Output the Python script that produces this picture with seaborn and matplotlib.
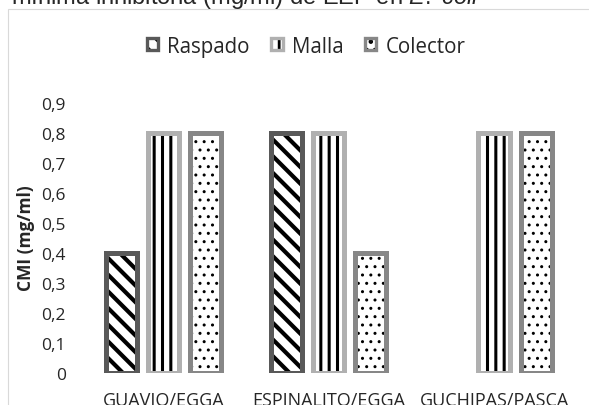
import numpy as np
import pandas as pd
import matplotlib
matplotlib.use("Agg")
import matplotlib.pyplot as plt
from matplotlib.patches import Patch, Rectangle
from matplotlib.legend_handler import HandlerTuple
from matplotlib.ticker import FuncFormatter
import seaborn as sns

# CMI (mg/ml) por sitio y método de recolección del propóleo
sites = ["GUAVIO/EGGA", "ESPINALITO/EGGA", "GUCHIPAS/PASCA"]
methods = ["Raspado", "Malla", "Colector"]
raspado = [0.4, 0.8, np.nan]      # sin dato para GUCHIPAS/PASCA
malla = [0.8, 0.8, 0.8]
colector = [0.8, 0.4, 0.8]
yticks = [0.0, 0.1, 0.2, 0.3, 0.4, 0.5, 0.6, 0.7, 0.8, 0.9]

edge_colors = ["#595959", "#B0B0B0", "#878787"]
hatches = ["\\\\", "||", ".."]
hatch_widths = [3.0, 2.2, 1.0]

df = pd.DataFrame({
    "sitio": sites * 3,
    "metodo": [m for m in methods for _ in sites],
    "cmi": raspado + malla + colector,
})

sns.set_theme(style="white")
plt.rcParams["font.family"] = ["Open Sans", "DejaVu Sans"]
plt.rcParams["mathtext.fontset"] = "custom"
plt.rcParams["mathtext.rm"] = "Liberation Sans"
plt.rcParams["mathtext.it"] = "Liberation Sans:italic"
plt.rcParams["hatch.linewidth"] = 2.0

fig = plt.figure(figsize=(5.89, 4.06), dpi=100)
ax = fig.add_axes([0.1377, 0.0776, 0.8413, 0.6658])

bar_kw = dict(data=df, x="sitio", y="cmi", hue="metodo", order=sites,
              hue_order=methods, width=0.764, gap=0.26, errorbar=None,
              legend=False, ax=ax)

# relleno con trama negra
sns.barplot(palette=["white"] * 3, edgecolor="black", linewidth=0, **bar_kw)
# contorno gris grueso
sns.barplot(palette=edge_colors, fill=False, linewidth=3.6, **bar_kw)


def apply_hatch(p, hatch, width):
    p.set_hatch(hatch)
    if hasattr(p, "set_hatch_linewidth"):
        p.set_hatch_linewidth(width)


for container, hatch, hw in zip(ax.containers[:3], hatches, hatch_widths):
    for bar in container:
        bar.set_edgecolor("black")
        bar.set_linewidth(0)
        apply_hatch(bar, hatch, hw)

ax.set_xlim(-0.5, 2.5)
ax.set_ylim(0, 0.9)
ax.set_yticks(yticks)
ax.yaxis.set_major_formatter(
    FuncFormatter(lambda v, _: "0" if abs(v) < 1e-9 else f"{v:.1f}".replace(".", ",")))
ax.tick_params(axis="y", length=0, pad=11, labelsize=12.5, labelcolor="#262626")
ax.tick_params(axis="x", length=0, pad=12.5, labelsize=13, labelcolor="#262626")
ax.set_xlabel("")
ax.set_ylabel("CMI (mg/ml)", fontsize=12.5, fontweight="bold", color="#262626")
ax.yaxis.set_label_coords(-0.093, 0.505)
for s in ax.spines.values():
    s.set_visible(False)

# leyenda con muestra de trama y contorno superpuestos
handles = []
for c, hatch, hw in zip(edge_colors, hatches, hatch_widths):
    fill = Patch(facecolor="white", edgecolor="black", linewidth=0)
    apply_hatch(fill, hatch, hw)
    outline = Patch(facecolor="none", edgecolor=c, linewidth=2.4)
    handles.append((fill, outline))
fig.legend(handles, methods, handler_map={tuple: HandlerTuple(ndivide=1)},
           loc="center", bbox_to_anchor=(0.5195, 0.8842), ncol=3, frameon=False,
           fontsize=14.8, handlelength=0.55, handleheight=0.55, handletextpad=0.45,
           columnspacing=1.05, labelcolor="#262626")

# marco del área del gráfico
fig.add_artist(Rectangle((8 / 589, -0.1), 1.2, (406 - 10) / 406 + 0.1,
                         transform=fig.transFigure, fill=False,
                         edgecolor="#D9D9D9", linewidth=0.8))

fig.text(245 / 589, 1 - 4 / 406,
         r"mínima inhibitoria (mg/ml) de EEP en $\it{E.\ coli}$",
         ha="center", va="baseline", fontsize=17, family="Liberation Sans",
         color="#262626")

fig.savefig("out.png", dpi=100)
